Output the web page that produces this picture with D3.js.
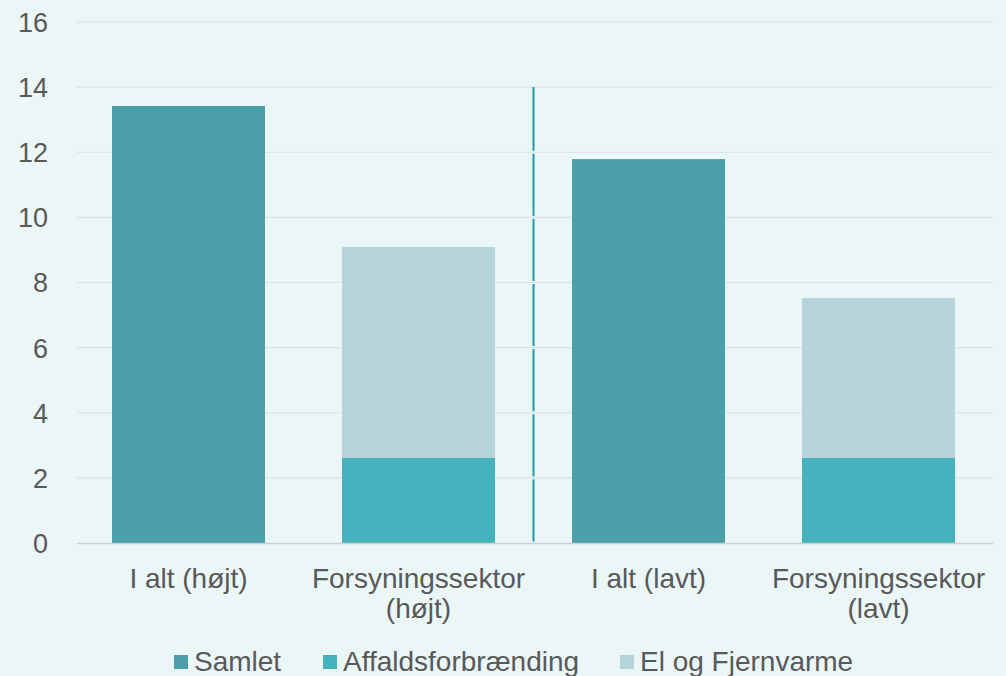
<!DOCTYPE html>
<html>
<head>
<meta charset="utf-8">
<title>Forsyningssektor</title>
<script src="https://d3js.org/d3.v7.min.js"></script>
<style>
  body { margin: 0; background: #ebf6f7; }
  text { font-family: "Liberation Sans", Arial, sans-serif; }
</style>
</head>
<body>
<script>
// categories and series
const categories = [["I alt (højt)"], ["Forsyningssektor", "(højt)"], ["I alt (lavt)"], ["Forsyningssektor", "(lavt)"]];
const samlet = [13.42, 0, 11.79, 0];
const affald = [0, 2.61, 0, 2.61];
const elFjern = [0, 6.48, 0, 4.91];
const seriesNames = ["Samlet", "Affaldsforbrænding", "El og Fjernvarme"];
const seriesColors = ["#4a9fa8", "#45b2bd", "#b5d5db"];
const yTicks = [0, 2, 4, 6, 8, 10, 12, 14, 16];

const W = 1006, H = 676;
const svg = d3.select("body").append("svg").attr("width", W).attr("height", H);
svg.append("rect").attr("width", W).attr("height", H).attr("fill", "#ebf6f7");

const x = d3.scaleBand().domain(d3.range(categories.length)).range([73.5, 993.5]).paddingInner(0.335).paddingOuter(0.1675);
const y = d3.scaleLinear().domain([0, 16]).range([543, 22]);

// gridlines
svg.append("g").selectAll("line").data(yTicks.slice(1)).join("line")
  .attr("x1", 77).attr("x2", 993)
  .attr("y1", d => y(d)).attr("y2", d => y(d))
  .attr("stroke", "#d9e2e4").attr("stroke-width", 1.2);

// y axis labels
const yAxis = d3.axisLeft(y).tickValues(yTicks).tickSize(0).tickPadding(0);
svg.append("g").attr("transform", "translate(48,0)").call(yAxis)
  .call(g => g.select(".domain").remove())
  .selectAll("text").attr("font-size", 27).attr("fill", "#595959").attr("dy", "0.35em")
  .attr("font-family", "Liberation Sans, Arial, sans-serif");

// stacked bars
const rows = categories.map((c, i) => ({ i, Samlet: samlet[i], "Affaldsforbrænding": affald[i], "El og Fjernvarme": elFjern[i] }));
const stack = d3.stack().keys(seriesNames)(rows);
svg.append("g").selectAll("g").data(stack).join("g")
  .attr("fill", (d, k) => seriesColors[k])
  .selectAll("rect").data(d => d.filter(p => p[1] > p[0])).join("rect")
  .attr("x", d => x(d.data.i)).attr("width", x.bandwidth())
  .attr("y", d => y(d[1])).attr("height", d => y(d[0]) - y(d[1]));

// baseline
svg.append("line").attr("x1", 77).attr("x2", 993).attr("y1", y(0) + 0.5).attr("y2", y(0) + 0.5)
  .attr("stroke", "#c9d0d2").attr("stroke-width", 1.5);

// divider between scenarios, broken where it crosses gridlines
const divX = (x(1) + x.bandwidth() + x(2)) / 2;
const divTicks = yTicks.filter(t => t <= 14).reverse();
svg.append("g").selectAll("line").data(divTicks.slice(0, -1)).join("line")
  .attr("x1", divX).attr("x2", divX)
  .attr("y1", (d, k) => y(d) + (k === 0 ? 0 : 1.5)).attr("y2", (d, k) => y(divTicks[k + 1]) - 1.5)
  .attr("stroke", "#1e9aa6").attr("stroke-width", 2);

// x labels
const xl = svg.append("g").selectAll("text").data(categories).join("text")
  .attr("text-anchor", "middle").attr("font-size", 28).attr("fill", "#595959")
  .attr("x", (d, i) => x(i) + x.bandwidth() / 2).attr("y", 588);
xl.selectAll("tspan").data(d => d).join("tspan")
  .attr("x", function () { return this.parentNode.getAttribute("x"); })
  .attr("dy", (d, j) => j === 0 ? 0 : 30).text(d => d);

// legend
const legendX = [174, 323, 620];
const lg = svg.append("g").selectAll("g").data(seriesNames).join("g")
  .attr("transform", (d, i) => `translate(${legendX[i]},0)`);
lg.append("rect").attr("x", 0).attr("y", 655).attr("width", 14).attr("height", 14)
  .attr("fill", (d, i) => seriesColors[i]);
lg.append("text").attr("x", 20).attr("y", 671).attr("font-size", 28).attr("fill", "#595959").text(d => d);
</script>
</body>
</html>
